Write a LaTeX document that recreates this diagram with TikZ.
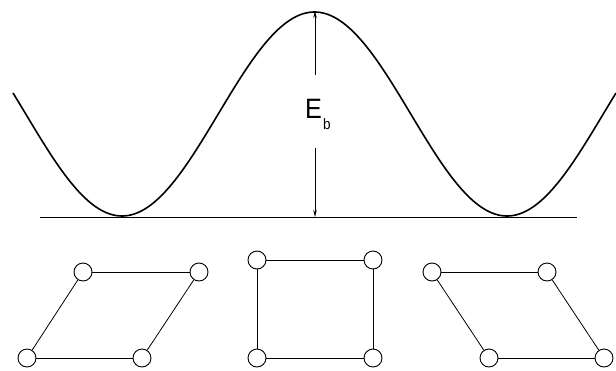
\documentclass[tikz,border=0pt]{standalone}
\usepackage{fontspec}
\setmainfont{Liberation Sans}
\usetikzlibrary{arrows.meta}
\begin{document}
\begin{tikzpicture}[x=1pt,y=-1pt,
  atom/.style={circle,draw,line width=0.9pt,minimum size=18pt,inner sep=0pt},
  bond/.style={line width=0.8pt},
  arr/.style={line width=0.8pt,-{Stealth[length=7pt,width=3.5pt]}}]
\useasboundingbox (0,0) rectangle (616,370);
% energy curve
\draw[line width=1.6pt,line join=round] plot[domain=13:616,samples=240,smooth] ({\x},{114+102*cos(0.935065*(\x-122))});
% baseline
\coordinate (bl) at (40,217);
\coordinate (br) at (577,217);
\draw[line width=0.9pt] (bl) -- (br);
% barrier arrow
\coordinate (top) at (315,11);
\coordinate (bot) at (315,217);
\coordinate (a1) at (315,75);
\coordinate (a2) at (315,148);
\draw[arr] (a1) -- (top);
\draw[arr] (a2) -- (bot);
\node[inner sep=0pt,anchor=base west] (Eb) at (305,118) {\scalebox{0.9}[1]{\fontsize{28}{28}\selectfont E}\hspace{1pt}\raisebox{-11pt}{\scalebox{0.9}[1]{\fontsize{15}{15}\selectfont b}}};
% left parallelogram
\node[atom] (l1) at (83,272) {};
\node[atom] (l2) at (199,272) {};
\node[atom] (l3) at (27,358) {};
\node[atom] (l4) at (142,358) {};
\draw[bond] (l1) -- (l2);
\draw[bond] (l3) -- (l4);
\draw[bond] (l1) -- (l3);
\draw[bond] (l2) -- (l4);
% middle square
\node[atom] (m1) at (257,260) {};
\node[atom] (m2) at (373,260) {};
\node[atom] (m3) at (257,358) {};
\node[atom] (m4) at (373,358) {};
\draw[bond] (m1) -- (m2);
\draw[bond] (m3) -- (m4);
\draw[bond] (m1) -- (m3);
\draw[bond] (m2) -- (m4);
% right parallelogram
\node[atom] (r1) at (432,272) {};
\node[atom] (r2) at (547,272) {};
\node[atom] (r3) at (489,358) {};
\node[atom] (r4) at (604,358) {};
\draw[bond] (r1) -- (r2);
\draw[bond] (r3) -- (r4);
\draw[bond] (r1) -- (r3);
\draw[bond] (r2) -- (r4);
\end{tikzpicture}
\end{document}
